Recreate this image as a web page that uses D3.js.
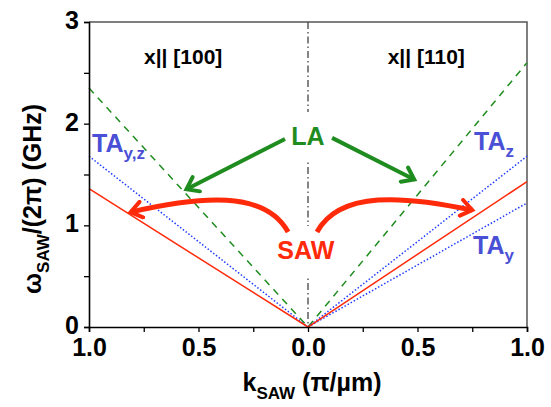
<!DOCTYPE html>
<html>
<head>
<meta charset="utf-8">
<script src="https://cdn.jsdelivr.net/npm/d3@7"></script>
<style>
  body { margin: 0; background: #fff; }
  text { font-family: "Liberation Sans", Arial, sans-serif; font-weight: bold; }
</style>
</head>
<body>
<div id="chart"></div>
<script>
// k in units of pi/um, negative = x || [100] side, positive = x || [110] side
var kEnds = [-1, 0, 1];
var laValues = [2.35, 0, 2.60];      // LA
var taYZValues = [1.68, 0];          // TA y,z along [100]
var taZValues = [0, 1.68];           // TA z along [110]
var taYValues = [0, 1.22];           // TA y along [110]
var sawValues = [1.36, 0, 1.43];     // SAW
var xTicks = [-1, -0.5, 0, 0.5, 1];
var yTicks = [0, 1, 2, 3];

var width = 551, height = 407;
var margin = { top: 22, right: 24, bottom: 80, left: 89 };

var svg = d3.select("#chart").append("svg")
  .attr("width", width)
  .attr("height", height);

var x = d3.scaleLinear().domain([-1, 1]).range([margin.left, width - margin.right]);
var y = d3.scaleLinear().domain([0, 3]).range([height - margin.bottom, margin.top]);

// frame (top + right)
svg.append("path")
  .attr("d", "M" + x(-1) + "," + y(3) + "H" + x(1) + "V" + y(0))
  .attr("fill", "none")
  .attr("stroke", "#555")
  .attr("stroke-width", 1.5);

var line = d3.line()
  .x(function (d) { return x(d.k) })
  .y(function (d) { return y(d.w) });

var series = [
  { pts: [{ k: kEnds[0], w: laValues[0] }, { k: kEnds[1], w: laValues[1] }, { k: kEnds[2], w: laValues[2] }],
    color: "#1f8c1f", dash: "7,6" },
  { pts: [{ k: kEnds[0], w: taYZValues[0] }, { k: kEnds[1], w: taYZValues[1] }],
    color: "#1f3cff", dash: "1.5,2" },
  { pts: [{ k: kEnds[1], w: taZValues[0] }, { k: kEnds[2], w: taZValues[1] }],
    color: "#1f3cff", dash: "1.5,2" },
  { pts: [{ k: kEnds[1], w: taYValues[0] }, { k: kEnds[2], w: taYValues[1] }],
    color: "#1f3cff", dash: "1.5,2" },
  { pts: [{ k: kEnds[0], w: sawValues[0] }, { k: kEnds[1], w: sawValues[1] }, { k: kEnds[2], w: sawValues[2] }],
    color: "#ff2a0a", dash: null }
];

// center dash-dot line
svg.append("line")
  .attr("x1", x(0)).attr("x2", x(0))
  .attr("y1", y(3)).attr("y2", y(0))
  .attr("stroke", "#444")
  .attr("stroke-width", 1.3)
  .attr("stroke-dasharray", "7,3,1.5,3");

svg.selectAll("path.series")
  .data(series)
  .enter()
  .append("path")
  .attr("class", "series")
  .attr("d", function (d) { return line(d.pts) })
  .attr("fill", "none")
  .attr("stroke", function (d) { return d.color })
  .attr("stroke-width", 1.5)
  .attr("stroke-dasharray", function (d) { return d.dash });

// axes
var xAxis = d3.axisBottom(x)
  .tickValues(d3.range(-1, 1.01, 0.25))
  .tickSize(5)
  .tickFormat(function (d) { return xTicks.indexOf(d) >= 0 ? Math.abs(d).toFixed(1) : "" });
var gx = svg.append("g")
  .attr("transform", "translate(0," + y(0) + ")")
  .call(xAxis);

var yAxis = d3.axisLeft(y)
  .tickValues(d3.range(0, 3.01, 0.5))
  .tickSize(5)
  .tickFormat(function (d) { return yTicks.indexOf(d) >= 0 ? d : "" });
var gy = svg.append("g")
  .attr("transform", "translate(" + x(-1) + ",0)")
  .call(yAxis);

[gx, gy].forEach(function (g) {
  g.select(".domain").attr("stroke", "#000").attr("stroke-width", 1.6);
  g.selectAll(".tick line").attr("stroke", "#000").attr("stroke-width", 1.3);
  g.selectAll(".tick text")
    .attr("fill", "#000")
    .style("font-size", "25px")
    .style("font-family", "'Liberation Sans', Arial, sans-serif")
    .style("font-weight", "bold");
});
gx.selectAll(".tick text").attr("dy", "0.71em").attr("y", 11);
gy.selectAll(".tick text").attr("x", -10).attr("dy", "0.26em");

// axis titles
var xt = svg.append("text")
  .attr("x", 312).attr("y", 391)
  .attr("text-anchor", "middle")
  .style("font-size", "25px");
xt.append("tspan").text("k");
xt.append("tspan").attr("dy", 8).style("font-size", "17px").text("SAW");
xt.append("tspan").attr("dy", -8).text(" (\u03c0/\u00b5m)");

var yt = svg.append("text")
  .attr("transform", "translate(41,199) rotate(-90)")
  .attr("text-anchor", "middle")
  .style("font-size", "25px");
yt.append("tspan").text("\u03c9");
yt.append("tspan").attr("dy", 8).style("font-size", "17px").text("SAW");
yt.append("tspan").attr("dy", -8).text("/(2\u03c0) (GHz)");

// direction labels
svg.append("text").attr("x", x(-0.57)).attr("y", 64)
  .attr("text-anchor", "middle").style("font-size", "21px").text("x|| [100]");
svg.append("text").attr("x", x(0.54)).attr("y", 64)
  .attr("text-anchor", "middle").style("font-size", "21px").text("x|| [110]");

// labels with white backdrop (cuts the centre line)
function label(px, py, txt, color) {
  var t = svg.append("text")
    .attr("x", px).attr("y", py)
    .attr("text-anchor", "middle")
    .attr("fill", color)
    .style("font-size", "25px")
    .text(txt);
  var b = t.node().getBBox();
  svg.insert("rect", function () { return t.node() })
    .attr("x", b.x - 4).attr("y", b.y - 10)
    .attr("width", b.width + 8).attr("height", b.height + 22)
    .attr("fill", "#fff");
  return t;
}
label(x(0), 145, "LA", "#1f8c1f");
label(x(-0.01), 259, "SAW", "#ff2a0a");

// TA labels
function taLabel(px, py, sub) {
  var t = svg.append("text")
    .attr("x", px).attr("y", py)
    .attr("fill", "#4a50d6")
    .style("font-size", "25px");
  t.append("tspan").text("TA");
  t.append("tspan").attr("dy", 7).style("font-size", "17px").text(sub);
}
taLabel(92, 152, "y,z");
taLabel(474, 150, "z");
taLabel(473, 254, "y");

// arrows
var defs = svg.append("defs");
function marker(id, color) {
  defs.append("marker")
    .attr("id", id)
    .attr("viewBox", "-14 -10 18 20")
    .attr("markerUnits", "userSpaceOnUse")
    .attr("markerWidth", 18).attr("markerHeight", 20)
    .attr("refX", 0).attr("refY", 0)
    .attr("orient", "auto")
    .append("path")
    .attr("d", "M-11,-8 L0,0 L-11,8")
    .attr("fill", "none")
    .attr("stroke", color)
    .attr("stroke-width", 4)
    .attr("stroke-linecap", "round")
    .attr("stroke-linejoin", "miter");
}
marker("arrG", "#1f8c1f");
marker("arrR", "#ff2a0a");

var greenArrows = [
  [{ k: -0.105, w: 1.85 }, { k: -0.555, w: 1.355 }],
  [{ k: 0.11, w: 1.86 }, { k: 0.485, w: 1.45 }]
];
svg.selectAll("path.ga")
  .data(greenArrows)
  .enter()
  .append("path")
  .attr("class", "ga")
  .attr("d", function (d) { return line(d) })
  .attr("fill", "none")
  .attr("stroke", "#1f8c1f")
  .attr("stroke-width", 4)
  .attr("marker-end", "url(#arrG)");

var redArrows = [
  [{ k: -0.091, w: 0.934 }, { k: -0.196, w: 1.347 }, { k: -0.493, w: 1.288 }, { k: -0.81, w: 1.13 }],
  [{ k: 0.041, w: 0.934 }, { k: 0.146, w: 1.347 }, { k: 0.443, w: 1.288 }, { k: 0.75, w: 1.15 }]
];
svg.selectAll("path.ra")
  .data(redArrows)
  .enter()
  .append("path")
  .attr("class", "ra")
  .attr("d", function (d) {
    var p = d3.path();
    p.moveTo(x(d[0].k), y(d[0].w));
    p.bezierCurveTo(x(d[1].k), y(d[1].w), x(d[2].k), y(d[2].w), x(d[3].k), y(d[3].w));
    return p.toString();
  })
  .attr("fill", "none")
  .attr("stroke", "#ff2a0a")
  .attr("stroke-width", 5)
  .attr("marker-end", "url(#arrR)");
</script>
</body>
</html>
